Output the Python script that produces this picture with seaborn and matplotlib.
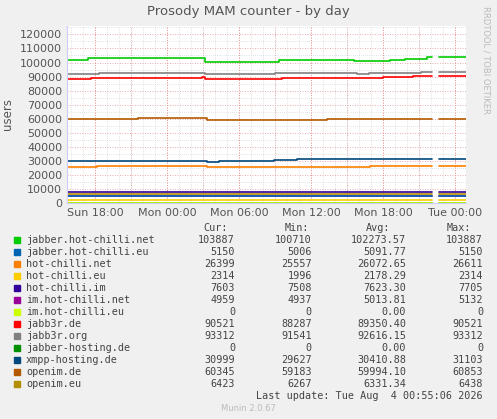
import numpy as np
import matplotlib
matplotlib.use("Agg")
import matplotlib.pyplot as plt
import seaborn as sns
from matplotlib.ticker import MultipleLocator

sns.set_style("white")
plt.rcParams['font.family'] = ['DejaVu Sans']

# hours relative to Mon 00:00; each series: breakpoint times and step values
T0, T1 = -8.33, 24.92
GAP = (22.1, 22.7)
names = ["jabber.hot-chilli.net", "jabber.hot-chilli.eu", "hot-chilli.net", "hot-chilli.eu",
         "hot-chilli.im", "im.hot-chilli.net", "im.hot-chilli.eu", "jabb3r.de", "jabb3r.org",
         "jabber-hosting.de", "xmpp-hosting.de", "openim.de", "openim.eu"]
colors = ["#00CC00", "#0066B3", "#FF8000", "#FFCC00", "#330099", "#990099", "#CCFF00",
          "#FF0000", "#808080", "#008F00", "#00487D", "#B35A00", "#B38F00"]
bp_times = {
    "jabber.hot-chilli.net": [T0, -6.6, -4.0, 3.2, 9.3, 13.8, 15.6, 18.6, 19.8, 21.7],
    "jabber.hot-chilli.eu": [T0],
    "hot-chilli.net": [T0, -5.8, 3.3, 16.9],
    "hot-chilli.eu": [T0],
    "hot-chilli.im": [T0],
    "im.hot-chilli.net": [T0],
    "im.hot-chilli.eu": [T0],
    "jabb3r.de": [T0, -6.3, 2.9, 3.2, 9.6, 18.0, 20.5],
    "jabb3r.org": [T0, -5.7, 3.2, 5.3, 9.0, 15.8, 16.8, 21.2],
    "jabber-hosting.de": [T0],
    "xmpp-hosting.de": [T0, 3.3, 4.3, 8.9, 10.8, 15.6],
    "openim.de": [T0, -2.4, 3.3, 13.3],
    "openim.eu": [T0],
}
bp_values = {
    "jabber.hot-chilli.net": [102000, 103000, 103500, 100710, 101500, 102000, 101400, 102000, 102800, 103887],
    "jabber.hot-chilli.eu": [5150],
    "hot-chilli.net": [25600, 26400, 25557, 26399],
    "hot-chilli.eu": [2314],
    "hot-chilli.im": [7650],
    "im.hot-chilli.net": [4959],
    "im.hot-chilli.eu": [0],
    "jabb3r.de": [88500, 89200, 90000, 88287, 89300, 90000, 90521],
    "jabb3r.org": [92000, 92600, 91541, 92000, 92600, 91700, 92500, 93312],
    "jabber-hosting.de": [0],
    "xmpp-hosting.de": [30000, 29300, 30000, 30800, 31103, 30999],
    "openim.de": [60000, 60853, 59183, 60000],
    "openim.eu": [6423],
}
cur = ["103887", "5150", "26399", "2314", "7603", "4959", "0", "90521", "93312", "0", "30999", "60345", "6423"]
mn = ["100710", "5006", "25557", "1996", "7508", "4937", "0", "88287", "91541", "0", "29627", "59183", "6267"]
avg = ["102273.57", "5091.77", "26072.65", "2178.29", "7623.30", "5013.81", "0.00", "89350.40", "92616.15", "0.00", "30410.88", "59994.10", "6331.34"]
mx = ["103887", "5150", "26611", "2314", "7705", "5132", "0", "90521", "93312", "0", "31103", "60853", "6438"]
xtick_pos = [-6, 0, 6, 12, 18, 24]
xtick_labels = ["Sun 18:00", "Mon 00:00", "Mon 06:00", "Mon 12:00", "Mon 18:00", "Tue 00:00"]

W, H = 497, 419
fig = plt.figure(figsize=(W/100, H/100), dpi=100, facecolor="#F0F0F0")
ax = fig.add_axes([67/W, 1-203/H, (466-67)/W, (203-26)/H])
ax.set_facecolor("white")

def segment(ts, vs, a, b):
    xs, ys = [], []
    for i, (t, v) in enumerate(zip(ts, vs)):
        t2 = ts[i+1] if i+1 < len(ts) else T1
        s, e = max(t, a), min(t2, b)
        if s < e:
            xs += [s, e]; ys += [v, v]
    return xs, ys

order = list(range(len(names)))[::-1]
for i in order:
    n = names[i]
    for a, b in [(T0, GAP[0]), (GAP[1], T1)]:
        xs, ys = segment(bp_times[n], bp_values[n], a, b)
        sns.lineplot(x=xs, y=ys, ax=ax, color=colors[i], lw=1.2, sort=False, estimator=None)

ax.set_xlim(T0, T1)
ax.set_ylim(0, 126000)
ax.yaxis.set_major_locator(MultipleLocator(10000))
ax.yaxis.set_minor_locator(MultipleLocator(5000))
ax.xaxis.set_minor_locator(MultipleLocator(1))
ax.set_xticks(xtick_pos, xtick_labels)
ax.grid(which="major", color="#E89090", ls=(0, (1, 2)), lw=0.6)
ax.grid(which="minor", color="#C8C8C8", ls=(0, (1, 2)), lw=0.5)
for x in np.arange(-9, 25, 3):
    ax.axvline(x, color="#E89090", ls=(0, (1, 2)), lw=0.6, zorder=0)
ax.tick_params(labelsize=8, colors="#555555", length=0)
ax.set_ylabel("users", fontsize=8.5, color="#555555")
for s in ["top", "right"]:
    ax.spines[s].set_visible(False)
ax.spines["left"].set_color("#CCCCFF")
ax.spines["bottom"].set_color("#CCCCFF")

fig.text(248/W, 1-12/H, "Prosody MAM counter - by day", ha="center", va="center", fontsize=9.5, color="#555555")
fig.text(486/W, 1-60/H, "RRDTOOL / TOBI OETIKER", rotation=270, ha="center", va="center", fontsize=6, color="#BBBBBB")

mono = dict(family="DejaVu Sans Mono", fontsize=7.3, color="#444444", va="center")
def ty(y): return 1 - y/H
fig.text(228/W, ty(228), "Cur:", ha="right", **mono)
fig.text(309/W, ty(228), "Min:", ha="right", **mono)
fig.text(390/W, ty(228), "Avg:", ha="right", **mono)
fig.text(471/W, ty(228), "Max:", ha="right", **mono)
for k, n in enumerate(names):
    y = 240 + k*12.0
    fig.patches.append(matplotlib.patches.Rectangle((14/W, ty(y+3)), 6/W, 6/H, color=colors[k], transform=fig.transFigure, figure=fig))
    fig.text(26/W, ty(y), n, ha="left", **mono)
    fig.text(235/W, ty(y), cur[k], ha="right", **mono)
    fig.text(312/W, ty(y), mn[k], ha="right", **mono)
    fig.text(406/W, ty(y), avg[k], ha="right", **mono)
    fig.text(483/W, ty(y), mx[k], ha="right", **mono)
fig.text(483/W, ty(396), "Last update: Tue Aug  4 00:55:06 2026", ha="right", **mono)
fig.text(248/W, ty(408), "Munin 2.0.67", ha="center", va="center", fontsize=6, color="#BBBBBB")

fig.savefig("out.png", dpi=100, facecolor=fig.get_facecolor())
